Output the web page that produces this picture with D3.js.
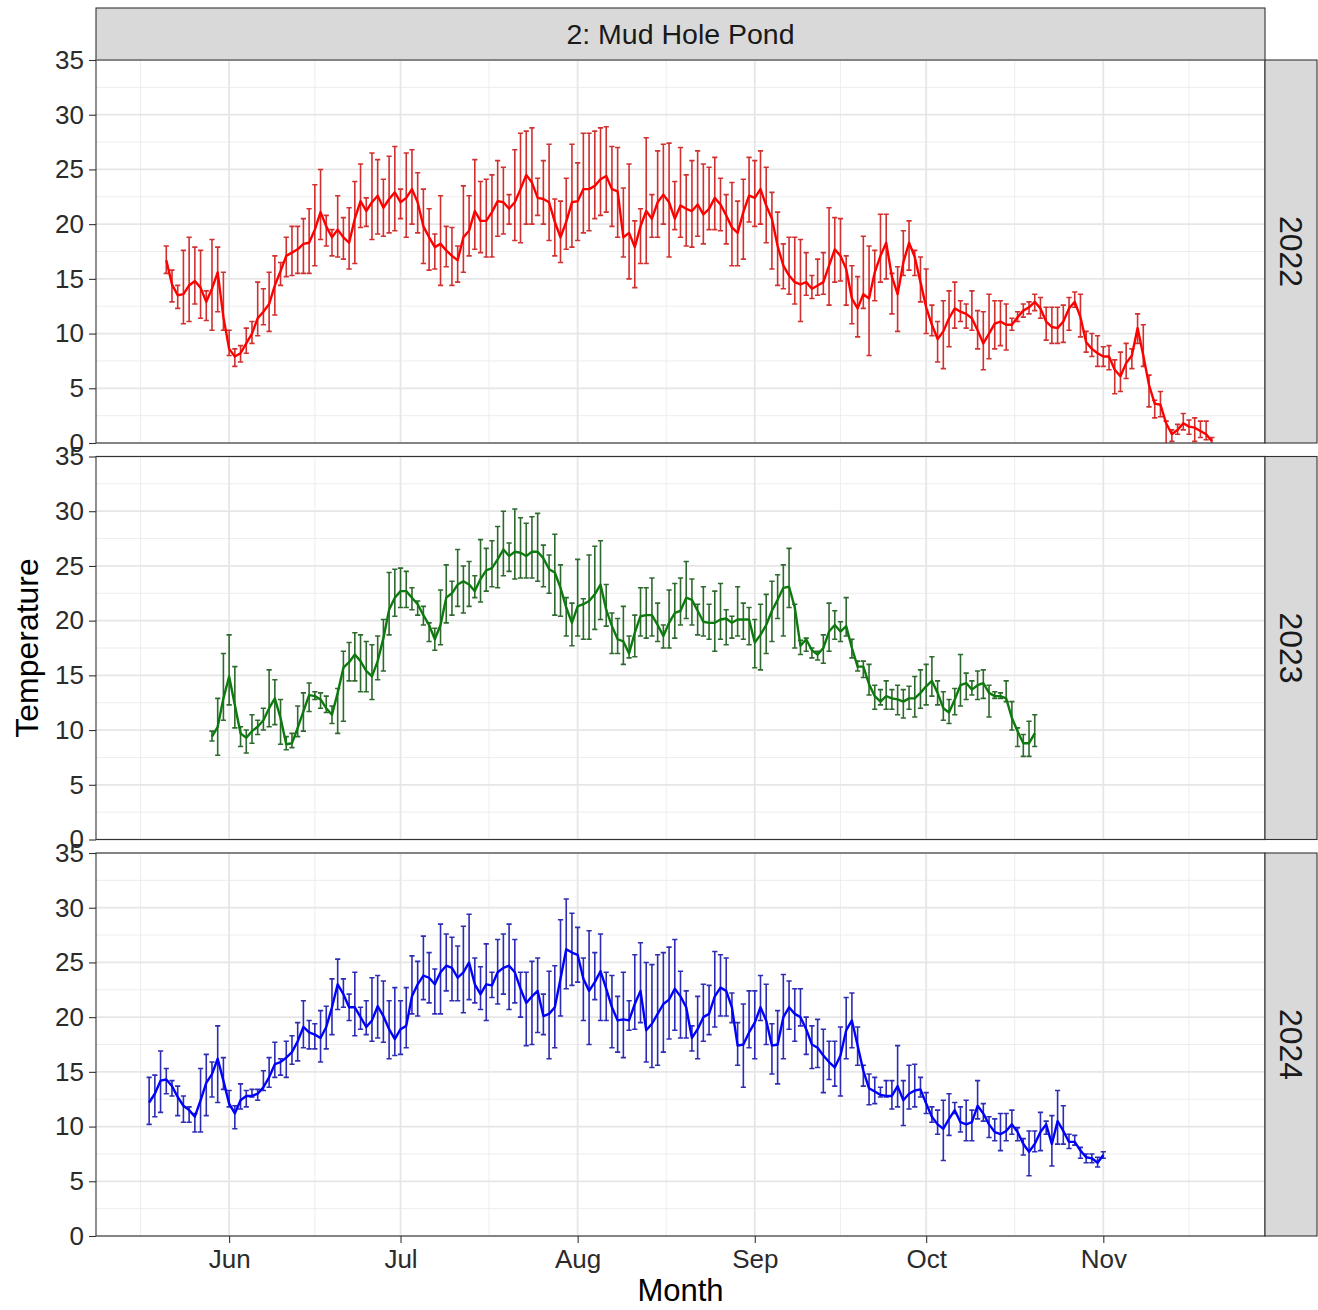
<!DOCTYPE html>
<html>
<head>
<meta charset="utf-8">
<script src="https://cdn.jsdelivr.net/npm/d3@7/dist/d3.min.js"></script>
<style>
  body { margin: 0; background: #fff; }
  svg { display: block; }
  text { font-family: "Liberation Sans", Arial, Helvetica, sans-serif; }
</style>
</head>
<body>
<svg id="chart" width="1318" height="1310"></svg>
<script>
// site / facets
const site = "2: Mud Hole Pond";
const years = ["2022", "2023", "2024"];
// first day of each series (all drawn on a shared May-Nov calendar)
const firstDay = { "2022": "05-21", "2023": "05-29", "2024": "05-18" };
const monthLabels = ["Jun", "Jul", "Aug", "Sep", "Oct", "Nov"];
const yTicks = [0, 5, 10, 15, 20, 25, 30, 35];

// daily mean temperature and error bar limits
const mean2022 = [16.7,14.5,13.5,13.6,14.4,14.8,14.2,12.9,14.1,15.6,11.5,8.6,7.9,8.2,9.1,10.0,11.4,12.0,12.7,14.4,
  15.7,17.1,17.4,17.7,18.2,18.3,19.5,21.1,19.8,18.8,19.5,18.8,18.3,20.5,22.1,21.2,22.0,22.6,21.5,22.3,
  22.9,22.0,22.4,23.2,22.0,19.8,18.8,17.9,18.2,17.6,17.1,16.7,18.8,19.4,21.2,20.3,20.3,21.1,22.1,22.0,
  21.4,22.0,23.2,24.5,23.8,22.4,22.3,22.0,20.2,18.8,20.2,22.0,22.1,23.2,23.2,23.5,24.1,24.4,23.2,23.0,
  18.8,19.2,17.9,19.8,21.2,20.5,22.0,22.7,22.0,20.5,21.7,21.4,21.2,21.8,20.9,21.4,22.4,21.8,20.8,19.7,
  19.2,21.1,22.6,22.4,23.2,21.7,20.5,18.0,16.2,15.3,14.7,14.5,14.7,14.1,14.4,14.7,16.2,17.7,17.1,15.9,
  13.2,12.3,13.6,13.2,15.6,17.1,18.3,15.2,13.6,16.5,18.3,17.0,14.7,12.4,10.8,9.5,10.2,11.4,12.3,12.0,
  11.8,11.4,10.3,9.1,10.0,10.9,11.1,10.8,10.8,11.5,12.1,12.4,12.9,12.3,11.1,10.6,10.5,11.1,12.3,12.9,
  11.5,9.2,8.6,8.2,7.9,7.9,6.7,6.1,7.3,8.0,10.5,8.0,5.3,3.6,3.5,1.8,0.8,1.2,1.8,1.5,
  1.4,1.1,0.8,0.15];
const lo2022 = [15.5,12.9,12.3,10.9,11.1,12.7,11.4,11.2,10.3,12.0,10.3,8.0,7.0,7.4,8.2,9.1,9.8,10.8,10.2,11.7,
  14.4,15.2,15.3,15.5,15.5,15.5,16.2,18.6,18.0,17.1,17.0,16.8,15.9,16.4,19.7,19.8,18.6,19.1,18.9,19.2,
  19.4,20.5,18.8,20.0,19.2,16.4,15.8,15.9,14.4,16.1,14.4,14.7,15.6,17.1,17.7,17.4,17.0,17.0,18.9,19.1,
  20.0,18.5,18.3,20.0,20.0,20.8,20.0,18.5,17.1,16.5,17.7,17.9,18.5,19.2,19.4,20.5,20.8,21.1,19.8,18.8,
  17.0,15.0,14.2,16.4,16.4,18.8,18.8,20.0,17.0,19.5,18.8,18.0,17.9,18.9,18.2,19.5,19.5,19.4,18.2,16.2,
  16.2,16.8,20.2,19.8,20.0,18.3,15.9,14.4,14.1,13.6,12.7,11.1,13.5,13.2,13.5,13.6,12.6,14.7,14.8,12.6,
  10.9,9.7,12.3,8.0,13.0,14.7,15.0,11.8,10.2,15.3,15.8,15.3,12.9,10.0,9.8,7.4,6.8,8.8,10.5,11.1,
  10.5,10.3,8.6,6.7,7.7,8.6,8.9,8.5,10.3,11.1,11.5,11.8,12.1,11.4,9.4,9.1,9.1,9.2,10.3,12.4,
  9.7,8.3,7.9,7.0,7.0,6.7,4.5,4.7,5.9,6.8,9.1,7.0,3.3,2.3,2.4,-0.5,0.15,0.8,1.2,0.8,
  0.15,0.5,0.3,-0.2];
const hi2022 = [18.0,15.8,14.4,17.6,18.8,17.9,17.6,13.9,18.6,17.9,15.6,10.3,8.6,8.9,10.5,11.1,14.7,14.1,15.6,17.1,
  16.5,18.8,19.8,19.8,20.5,21.4,23.6,25.0,20.8,19.5,22.6,20.6,21.5,23.9,25.5,22.4,26.5,25.9,24.1,26.2,
  27.1,23.2,26.5,26.8,24.7,23.2,21.4,19.1,22.6,19.8,19.7,18.0,23.5,22.6,25.9,23.9,24.1,24.5,25.8,25.2,
  22.7,26.8,28.3,28.5,28.8,24.2,25.8,27.3,22.3,22.1,24.2,27.3,25.6,28.3,28.3,28.5,28.8,28.9,27.1,27.0,
  23.3,25.5,20.3,21.4,27.9,22.7,26.7,27.3,27.4,23.9,27.0,24.5,25.8,26.7,25.5,25.2,26.1,24.2,22.7,23.8,
  22.1,24.1,26.1,25.8,26.7,25.2,22.9,21.1,18.2,18.8,18.8,18.6,17.4,15.3,16.8,17.4,21.5,20.6,20.5,17.1,
  16.2,15.2,18.9,18.0,17.6,20.9,20.9,15.5,16.1,19.4,20.3,17.6,17.0,15.9,12.6,11.1,13.0,13.9,14.7,13.0,
  12.7,13.9,12.1,12.0,13.6,13.0,13.0,12.7,11.4,12.0,12.7,12.9,13.6,13.3,12.4,12.4,12.4,12.6,13.3,13.8,
  13.6,10.2,10.0,9.8,8.8,8.9,7.6,8.3,9.1,8.6,11.8,10.8,6.2,3.9,4.7,2.0,1.2,1.7,2.7,2.1,
  2.3,2.0,2.0,0.5];

const mean2023 = [9.4,10.3,12.9,14.9,12.3,9.7,9.3,9.9,10.3,10.9,12.0,12.9,11.1,8.7,8.8,10.2,11.7,13.2,13.1,12.8,
  12.0,11.4,13.4,15.7,16.2,16.9,16.3,15.4,14.9,16.3,18.4,21.0,22.1,22.7,22.7,22.1,21.5,20.5,19.6,18.3,
  19.6,22.1,22.5,23.3,23.6,23.3,22.7,23.8,24.6,24.8,25.6,26.5,25.9,26.3,26.2,25.9,26.3,26.3,25.7,24.7,
  24.4,23.0,21.2,19.8,21.3,21.5,21.8,22.4,23.3,21.0,19.5,18.3,18.1,17.0,18.9,20.4,20.5,20.5,19.6,18.6,
  19.8,20.7,20.9,22.1,21.9,20.9,19.9,19.8,19.8,20.1,20.2,19.8,20.1,20.1,20.1,18.0,18.7,19.6,20.9,21.9,
  23.0,23.1,21.2,17.7,18.3,17.3,16.9,17.5,19.0,19.6,19.0,19.5,17.5,15.8,15.8,14.2,13.1,12.6,13.1,12.9,
  12.8,12.6,12.9,12.9,13.4,14.0,14.5,13.4,12.0,11.6,12.8,14.1,14.3,13.7,14.1,14.3,13.4,13.1,13.1,12.9,
  11.1,9.9,8.8,8.8,9.7];
const lo2023 = [9.0,7.7,10.9,12.3,10.2,8.5,7.9,8.8,9.6,10.0,10.3,10.5,8.7,8.2,8.4,9.4,9.9,11.7,12.8,12.0,
  11.6,10.6,9.7,10.8,14.5,14.5,13.5,13.5,12.8,14.6,15.4,18.7,20.4,21.2,21.2,21.0,20.5,19.6,18.1,17.3,
  17.8,19.8,20.5,21.3,20.7,21.3,22.1,21.7,22.7,23.1,23.0,24.1,24.5,23.8,23.9,23.9,23.9,23.6,23.1,22.5,
  20.5,20.4,18.6,17.7,18.6,18.3,18.3,19.2,20.1,19.5,17.0,17.0,16.0,16.6,16.7,18.6,18.4,18.6,18.1,17.5,
  17.5,18.4,19.6,20.2,19.6,18.7,18.6,18.3,17.2,18.3,17.8,18.4,18.6,18.3,17.8,15.7,15.5,17.0,18.1,20.2,
  18.6,21.2,17.5,16.9,17.2,16.6,16.4,16.1,17.2,18.3,18.1,18.6,16.6,15.4,14.8,13.2,11.9,12.3,11.9,11.9,
  11.4,11.1,11.9,11.2,12.0,12.3,13.1,12.3,10.9,10.6,11.4,12.2,12.8,13.2,12.8,12.9,11.2,12.9,12.9,12.6,
  10.0,8.5,7.6,7.6,8.5];
const hi2023 = [9.9,12.9,17.0,18.7,15.8,10.3,10.0,11.4,10.9,12.0,15.5,14.6,12.8,9.4,9.7,12.2,13.4,14.3,13.5,13.4,
  13.1,12.2,13.8,17.2,18.0,18.9,18.7,18.1,17.8,18.6,20.1,24.4,24.7,24.8,24.5,23.0,21.8,21.3,19.8,19.3,
  22.8,25.1,23.6,26.5,25.0,25.4,24.1,27.4,26.6,27.3,28.6,30.0,27.1,30.2,29.4,28.9,29.5,29.8,26.9,26.0,
  27.9,25.1,22.1,21.6,25.6,22.0,26.0,26.8,27.3,23.3,20.7,20.2,21.3,18.6,20.5,23.0,23.0,23.9,21.6,19.6,
  22.8,23.4,23.9,25.4,23.8,21.5,23.1,21.5,22.7,23.4,21.0,20.4,23.1,21.6,21.2,20.1,21.5,22.4,23.6,24.2,
  25.1,26.6,21.5,18.2,18.4,17.5,17.2,18.7,21.6,20.9,19.9,22.1,18.3,16.3,16.3,16.0,14.1,13.7,14.5,13.7,
  14.1,13.7,14.0,14.9,15.5,16.0,16.7,14.5,13.5,12.8,13.8,16.9,15.2,14.5,15.4,15.5,14.1,13.5,13.4,14.5,
  12.6,10.2,9.6,10.8,11.4];

const mean2024 = [12.2,13.0,14.2,14.3,13.7,12.7,11.9,11.5,10.9,12.4,14.0,14.8,16.2,14.2,12.1,11.2,12.4,12.8,12.8,13.0,
  13.6,14.5,15.7,15.9,16.3,16.8,17.8,19.1,18.6,18.4,18.1,19.1,20.9,23.0,22.1,20.9,20.9,20.0,19.1,19.7,
  21.0,20.1,18.9,18.0,18.9,19.2,21.9,23.0,23.8,23.6,23.0,24.1,24.7,24.5,23.6,24.1,25.0,23.0,22.1,23.0,
  22.9,24.1,24.5,24.7,24.1,22.6,21.3,21.9,22.4,20.1,20.3,20.9,23.5,26.2,25.9,25.7,23.5,22.4,23.2,24.2,
  22.6,20.9,19.7,19.8,19.7,21.2,22.4,18.8,19.4,20.3,21.2,21.6,22.6,21.9,20.9,18.1,18.9,20.0,20.3,21.9,
  22.7,22.4,20.9,17.4,17.5,18.6,19.5,20.9,19.7,17.4,17.5,20.0,20.9,20.3,20.0,18.9,17.5,17.2,16.5,15.9,
  15.4,16.5,18.8,19.7,17.4,15.1,13.5,13.2,12.9,12.8,12.8,13.7,12.4,13.0,13.3,13.4,12.1,10.9,10.2,9.8,
  10.7,11.5,10.4,10.2,10.4,11.9,11.2,10.2,9.5,9.3,9.6,10.2,9.5,8.4,7.7,8.4,9.5,10.2,8.4,10.5,
  9.6,8.6,8.6,7.8,7.2,7.1,6.7,7.4];
const lo2024 = [10.2,10.9,11.3,13.0,12.8,11.0,10.4,10.4,9.5,9.5,11.0,12.7,12.2,13.4,11.8,9.8,11.6,11.8,12.7,12.4,
  13.3,13.6,14.5,14.7,14.5,15.7,16.0,17.2,17.1,17.1,15.9,17.1,18.4,20.7,20.9,19.7,18.3,18.9,18.4,17.8,
  18.1,17.7,16.2,16.5,16.6,17.2,20.3,20.1,21.6,21.3,20.3,20.3,22.4,21.5,21.5,20.4,21.6,21.3,20.7,19.7,
  21.8,21.2,22.1,20.7,21.3,20.0,17.4,17.5,18.6,18.4,16.2,17.2,20.1,22.6,22.9,23.2,19.7,17.5,21.6,19.7,
  19.7,17.2,16.8,16.3,18.8,18.9,19.5,15.9,15.4,15.6,16.8,18.0,18.8,18.1,18.1,16.9,16.2,17.8,18.4,19.1,
  20.1,20.1,19.5,15.6,13.6,17.2,16.2,19.7,17.5,14.8,13.9,16.2,18.9,17.8,19.2,16.6,15.3,15.4,13.1,14.3,
  13.7,12.8,16.2,17.2,15.6,13.7,12.0,12.1,12.7,12.7,11.6,11.8,10.1,11.6,11.8,12.7,11.2,10.4,9.3,6.9,
  9.2,11.2,9.5,8.7,8.7,10.7,10.5,9.0,8.7,7.8,8.7,9.3,8.7,7.4,5.5,7.7,7.8,9.3,6.4,8.4,
  8.4,8.0,8.3,7.1,6.7,6.7,6.3,7.1];
const hi2024 = [14.5,14.7,16.9,15.3,14.2,13.7,12.8,11.8,11.2,15.3,16.6,15.9,19.2,16.3,13.3,11.9,13.9,13.3,13.4,13.4,
  15.1,16.3,17.7,16.2,17.8,18.3,19.5,21.5,19.7,19.4,20.6,21.0,23.5,25.3,23.5,22.1,24.1,20.9,21.5,23.6,
  23.8,23.3,21.5,22.7,21.5,22.7,25.6,25.1,27.4,25.9,24.4,28.5,27.6,27.3,26.5,28.3,29.4,25.4,24.6,26.7,
  24.1,27.1,27.6,28.5,27.1,24.1,24.1,25.1,25.4,22.1,24.2,24.7,28.9,30.8,29.5,28.2,25.4,27.9,25.9,27.6,
  24.1,23.8,21.9,24.1,21.5,25.7,26.8,25.0,24.8,25.7,25.9,26.4,27.1,24.2,22.4,19.2,21.9,23.0,22.9,26.0,
  25.7,25.4,22.2,19.5,21.2,22.4,22.4,23.8,23.0,19.4,20.6,23.9,23.3,22.6,22.6,20.0,19.2,19.8,18.9,17.8,
  17.8,19.1,21.8,22.2,19.1,15.6,14.8,14.5,13.6,14.2,14.2,17.4,14.2,15.6,15.7,14.5,13.1,11.8,11.5,12.4,
  13.0,12.2,11.8,12.4,11.5,14.2,12.1,10.9,10.7,11.2,11.2,11.5,9.9,8.9,9.6,9.6,11.3,10.5,11.0,13.3,
  11.9,9.3,9.2,8.1,7.5,7.5,7.2,7.7];

const seriesMean = { "2022": mean2022, "2023": mean2023, "2024": mean2024 };
const seriesLo = { "2022": lo2022, "2023": lo2023, "2024": lo2024 };
const seriesHi = { "2022": hi2022, "2023": hi2023, "2024": hi2024 };
const lineColor = { "2022": "#ff0000", "2023": "#0d7a0d", "2024": "#0000ff" };
const barColor = { "2022": "#d22f2f", "2023": "#2e6a2e", "2024": "#2c2cb4" };

// layout
const W = 1318, H = 1310;
const panelLeft = 96, panelRight = 1265;
const stripTop = 8, stripBottom = 60;
const panelH = 383, panelGap = 13.5;
const panelTops = years.map((y, i) => stripBottom + i * (panelH + panelGap));

const parseDay = d3.timeParse("%Y-%m-%d");
const data = {};
years.forEach(yr => {
  const start = parseDay("2022-" + firstDay[yr]);
  data[yr] = seriesMean[yr].map((m, i) => ({
    date: d3.timeDay.offset(start, i),
    mean: m,
    lo: seriesLo[yr][i],
    hi: seriesHi[yr][i]
  }));
});

// x scale with ggplot-like 5% expansion
const allDates = years.flatMap(yr => data[yr].map(d => d.date));
const [dMin, dMax] = d3.extent(allDates);
const pad = (dMax - dMin) * 0.05;
const x = d3.scaleTime()
  .domain([new Date(+dMin - pad), new Date(+dMax + pad)])
  .range([panelLeft, panelRight]);

const majorX = monthLabels.map(m => d3.timeParse("%Y-%b-%d")("2022-" + m + "-01"));
const monthEdges = d3.timeMonth.range(parseDay("2022-05-01"), parseDay("2022-12-02"));
const minorX = d3.pairs(monthEdges).map(([a, b]) => new Date((+a + +b) / 2));

const svg = d3.select("#chart");
svg.append("rect").attr("width", W).attr("height", H).attr("fill", "#fff");

// top strip
svg.append("rect")
  .attr("x", panelLeft).attr("y", stripTop)
  .attr("width", panelRight - panelLeft).attr("height", stripBottom - stripTop)
  .attr("fill", "#d9d9d9").attr("stroke", "#333").attr("stroke-width", 1.1);
svg.append("text")
  .attr("x", (panelLeft + panelRight) / 2).attr("y", (stripTop + stripBottom) / 2)
  .attr("dy", "0.36em").attr("text-anchor", "middle")
  .attr("font-size", 28.5).attr("fill", "#1a1a1a")
  .text(site);

years.forEach((yr, i) => {
  const top = panelTops[i], bottom = top + panelH;
  const y = d3.scaleLinear().domain([0, 35]).range([bottom, top]);
  const g = svg.append("g");

  // grid
  const minorY = d3.range(2.5, 35, 5);
  g.selectAll(".ymin").data(minorY).join("line")
    .attr("x1", panelLeft).attr("x2", panelRight)
    .attr("y1", d => y(d)).attr("y2", d => y(d))
    .attr("stroke", "#ebebeb").attr("stroke-width", 0.9);
  g.selectAll(".xmin").data(minorX.filter(d => x(d) > panelLeft && x(d) < panelRight)).join("line")
    .attr("x1", d => x(d)).attr("x2", d => x(d))
    .attr("y1", top).attr("y2", bottom)
    .attr("stroke", "#ebebeb").attr("stroke-width", 0.9);
  g.selectAll(".ymaj").data(yTicks).join("line")
    .attr("x1", panelLeft).attr("x2", panelRight)
    .attr("y1", d => y(d)).attr("y2", d => y(d))
    .attr("stroke", "#e6e6e6").attr("stroke-width", 1.8);
  g.selectAll(".xmaj").data(majorX).join("line")
    .attr("x1", d => x(d)).attr("x2", d => x(d))
    .attr("y1", top).attr("y2", bottom)
    .attr("stroke", "#e6e6e6").attr("stroke-width", 1.8);

  // clip
  const clipId = "clip" + yr;
  svg.append("clipPath").attr("id", clipId)
    .append("rect").attr("x", panelLeft).attr("y", top)
    .attr("width", panelRight - panelLeft).attr("height", panelH);
  const plot = g.append("g").attr("clip-path", `url(#${clipId})`);

  // error bars
  const cap = 2.6;
  const eb = plot.append("g").attr("stroke", barColor[yr]).attr("stroke-width", 1.6).attr("fill", "none");
  eb.selectAll("path").data(data[yr]).join("path")
    .attr("d", d => {
      const cx = x(d.date), yl = y(d.lo), yh = y(d.hi);
      return `M${cx - cap},${yh}H${cx + cap}M${cx},${yh}V${yl}M${cx - cap},${yl}H${cx + cap}`;
    });

  // mean line
  plot.append("path").datum(data[yr])
    .attr("fill", "none").attr("stroke", lineColor[yr]).attr("stroke-width", 2.4)
    .attr("stroke-linejoin", "round")
    .attr("d", d3.line().x(d => x(d.date)).y(d => y(d.mean)));

  // border
  g.append("rect").attr("x", panelLeft).attr("y", top)
    .attr("width", panelRight - panelLeft).attr("height", panelH)
    .attr("fill", "none").attr("stroke", "#333").attr("stroke-width", 1.1);

  // y axis
  const ya = g.append("g").attr("transform", `translate(${panelLeft},0)`)
    .call(d3.axisLeft(y).tickValues(yTicks).tickSize(7).tickPadding(5).tickFormat(d3.format("d")));
  ya.select(".domain").remove();
  ya.selectAll("line").attr("stroke", "#333").attr("stroke-width", 1.1);
  ya.selectAll("text").attr("font-size", 26).attr("fill", "#2b2b2b")
    .attr("font-family", '"Liberation Sans", Arial, sans-serif');

  // right strip
  svg.append("rect")
    .attr("x", panelRight).attr("y", top)
    .attr("width", 52).attr("height", panelH)
    .attr("fill", "#d9d9d9").attr("stroke", "#333").attr("stroke-width", 1.1);
  svg.append("text")
    .attr("transform", `translate(${panelRight + 27},${top + panelH / 2}) rotate(90)`)
    .attr("dy", "0.36em").attr("text-anchor", "middle")
    .attr("font-size", 32).attr("fill", "#1a1a1a")
    .text(yr);

  // x axis on bottom panel only
  if (i === years.length - 1) {
    const xa = g.append("g").attr("transform", `translate(0,${bottom})`)
      .call(d3.axisBottom(x).tickValues(majorX).tickSize(7).tickPadding(7).tickFormat(d3.timeFormat("%b")));
    xa.select(".domain").remove();
    xa.selectAll("line").attr("stroke", "#333").attr("stroke-width", 1.1);
    xa.selectAll("text").attr("font-size", 26).attr("fill", "#2b2b2b")
      .attr("font-family", '"Liberation Sans", Arial, sans-serif');
  }
});

// axis titles
svg.append("text")
  .attr("x", (panelLeft + panelRight) / 2).attr("y", 1301)
  .attr("text-anchor", "middle").attr("font-size", 31).attr("fill", "#000")
  .text("Month");
svg.append("text")
  .attr("transform", `translate(38,${(panelTops[0] + panelTops[2] + panelH) / 2}) rotate(-90)`)
  .attr("text-anchor", "middle").attr("font-size", 32).attr("fill", "#000")
  .text("Temperature");
</script>
</body>
</html>
